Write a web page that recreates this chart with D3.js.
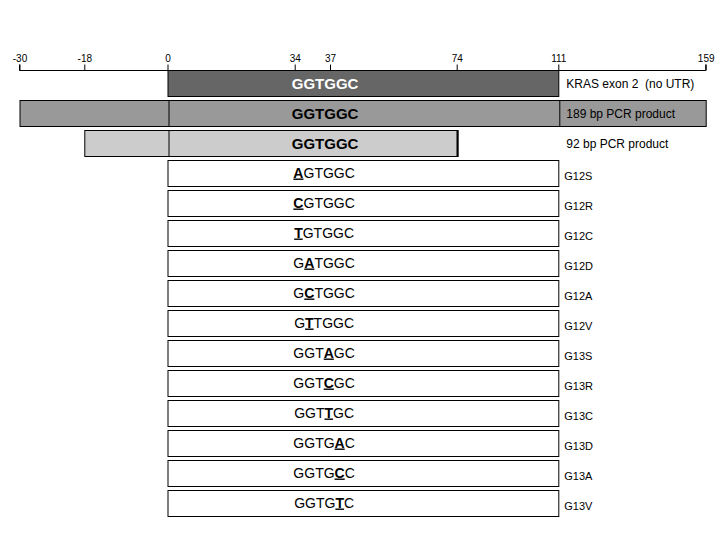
<!DOCTYPE html>
<html>
<head>
<meta charset="utf-8">
<script src="https://cdn.jsdelivr.net/npm/d3@7"></script>
<style>
  html, body { margin: 0; padding: 0; background: #fff; }
  svg { display: block; font-family: Arial, "Liberation Sans", sans-serif; }
</style>
</head>
<body>
<svg id="chart" width="720" height="540"></svg>
<script>
// ---------- data ----------
const axisTicks = [-30, -18, 0, 34, 37, 74, 111, 159];

const regionNames    = ["KRAS exon 2  (no UTR)", "189 bp PCR product", "92 bp PCR product"];
const regionStart    = [0, -30, -18];
const regionEnd      = [111, 159, 74];
const regionDividers = [[], [0, 111], [0]];

const wildType = "GGTGGC";

const mutationNames = ["G12S", "G12R", "G12C", "G12D", "G12A", "G12V",
                       "G13S", "G13R", "G13C", "G13D", "G13A", "G13V"];
const mutantSeqs    = ["AGTGGC", "CGTGGC", "TGTGGC", "GATGGC", "GCTGGC", "GTTGGC",
                       "GGTAGC", "GGTCGC", "GGTTGC", "GGTGAC", "GGTGCC", "GGTGTC"];
const mutationStart = 0;
const mutationEnd   = 111;
const codonCentre   = 36.5;   // sequence text sits over codons 12/13

// ---------- layout ----------
const regionFills = ["#666666", "#999999", "#cccccc"];
const regionText  = ["#ffffff", "#000000", "#000000"];

const svg = d3.select("#chart");

// the diagram's ruler is not to scale: piecewise scale through the labelled ticks
const x = d3.scaleLinear()
  .domain(axisTicks)
  .range([19.5, 84.3, 167.5, 294.7, 330, 456.7, 558.3, 705.7]);

const rowKeys = d3.range(regionNames.length + mutationNames.length);
const y = d3.scaleBand()
  .domain(rowKeys)
  .range([70, 516])
  .paddingInner(4 / 30)
  .paddingOuter(0);

const bw = y.bandwidth();
const labelX = x(111) + 8;

// ---------- axis ----------
const axisY = y(0);
const axis = d3.axisTop(x)
  .tickValues(axisTicks)
  .tickFormat(d => String(d))
  .tickSize(6)
  .tickSizeOuter(0)
  .tickPadding(3);
const gAxis = svg.append("g")
  .attr("transform", `translate(0,${axisY + 0.5})`)
  .call(axis);
gAxis.select(".domain").attr("stroke", "#000").attr("d", `M${x(-30)},-6V0H${x(159)}V-6`);
gAxis.selectAll(".tick line").attr("stroke", "#000");
gAxis.selectAll(".tick text")
  .attr("fill", "#000")
  .style("font-size", "10px")
  .style("font-family", "Arial, 'Liberation Sans', sans-serif");

// ---------- region bars ----------
regionNames.forEach((name, i) => {
  const top = y(i);
  const g = svg.append("g");
  g.append("rect")
    .attr("x", x(regionStart[i]) + 0.5)
    .attr("y", top + 0.5)
    .attr("width", x(regionEnd[i]) - x(regionStart[i]))
    .attr("height", bw)
    .attr("fill", regionFills[i])
    .attr("stroke", "#000")
    .attr("stroke-width", 1);
  regionDividers[i].forEach(d => {
    g.append("line")
      .attr("x1", x(d) + 1.5).attr("x2", x(d) + 1.5)
      .attr("y1", top).attr("y2", top + bw + 1)
      .attr("stroke", "#000");
  });
  if (i === 2) {
    g.append("line")
      .attr("x1", x(regionEnd[i]) + 1).attr("x2", x(regionEnd[i]) + 1)
      .attr("y1", top).attr("y2", top + bw + 1)
      .attr("stroke", "#000").attr("stroke-width", 2);
  }
  g.append("text")
    .attr("x", x(codonCentre) + 1)
    .attr("y", top + 18.5)
    .attr("text-anchor", "middle")
    .attr("fill", regionText[i])
    .style("font-size", "15px")
    .style("font-weight", "bold")
    .text(wildType);
  g.append("text")
    .attr("x", labelX)
    .attr("y", top + 17.5)
    .attr("fill", "#000")
    .style("font-size", "12px")
    .style("white-space", "pre")
    .attr("xml:space", "preserve")
    .text(name);
});

// ---------- mutation rows ----------
mutationNames.forEach((name, j) => {
  const i = regionNames.length + j;
  const top = y(i);
  const seq = mutantSeqs[j];
  const g = svg.append("g");
  g.append("rect")
    .attr("x", x(mutationStart) + 0.5)
    .attr("y", top + 0.5)
    .attr("width", x(mutationEnd) - x(mutationStart))
    .attr("height", bw)
    .attr("fill", "#fff")
    .attr("stroke", "#000");
  const t = g.append("text")
    .attr("x", x(codonCentre))
    .attr("y", top + 17.5)
    .attr("text-anchor", "middle")
    .attr("fill", "#000")
    .style("font-size", "14px");
  seq.split("").forEach((ch, k) => {
    const mut = ch !== wildType[k];
    const ts = t.append("tspan").text(ch);
    if (mut) {
      ts.style("font-weight", "bold").style("text-decoration", "underline");
    }
  });
  g.append("text")
    .attr("x", labelX - 2)
    .attr("y", top + 20)
    .attr("fill", "#000")
    .style("font-size", "11px")
    .text(name);
});
</script>
</body>
</html>
